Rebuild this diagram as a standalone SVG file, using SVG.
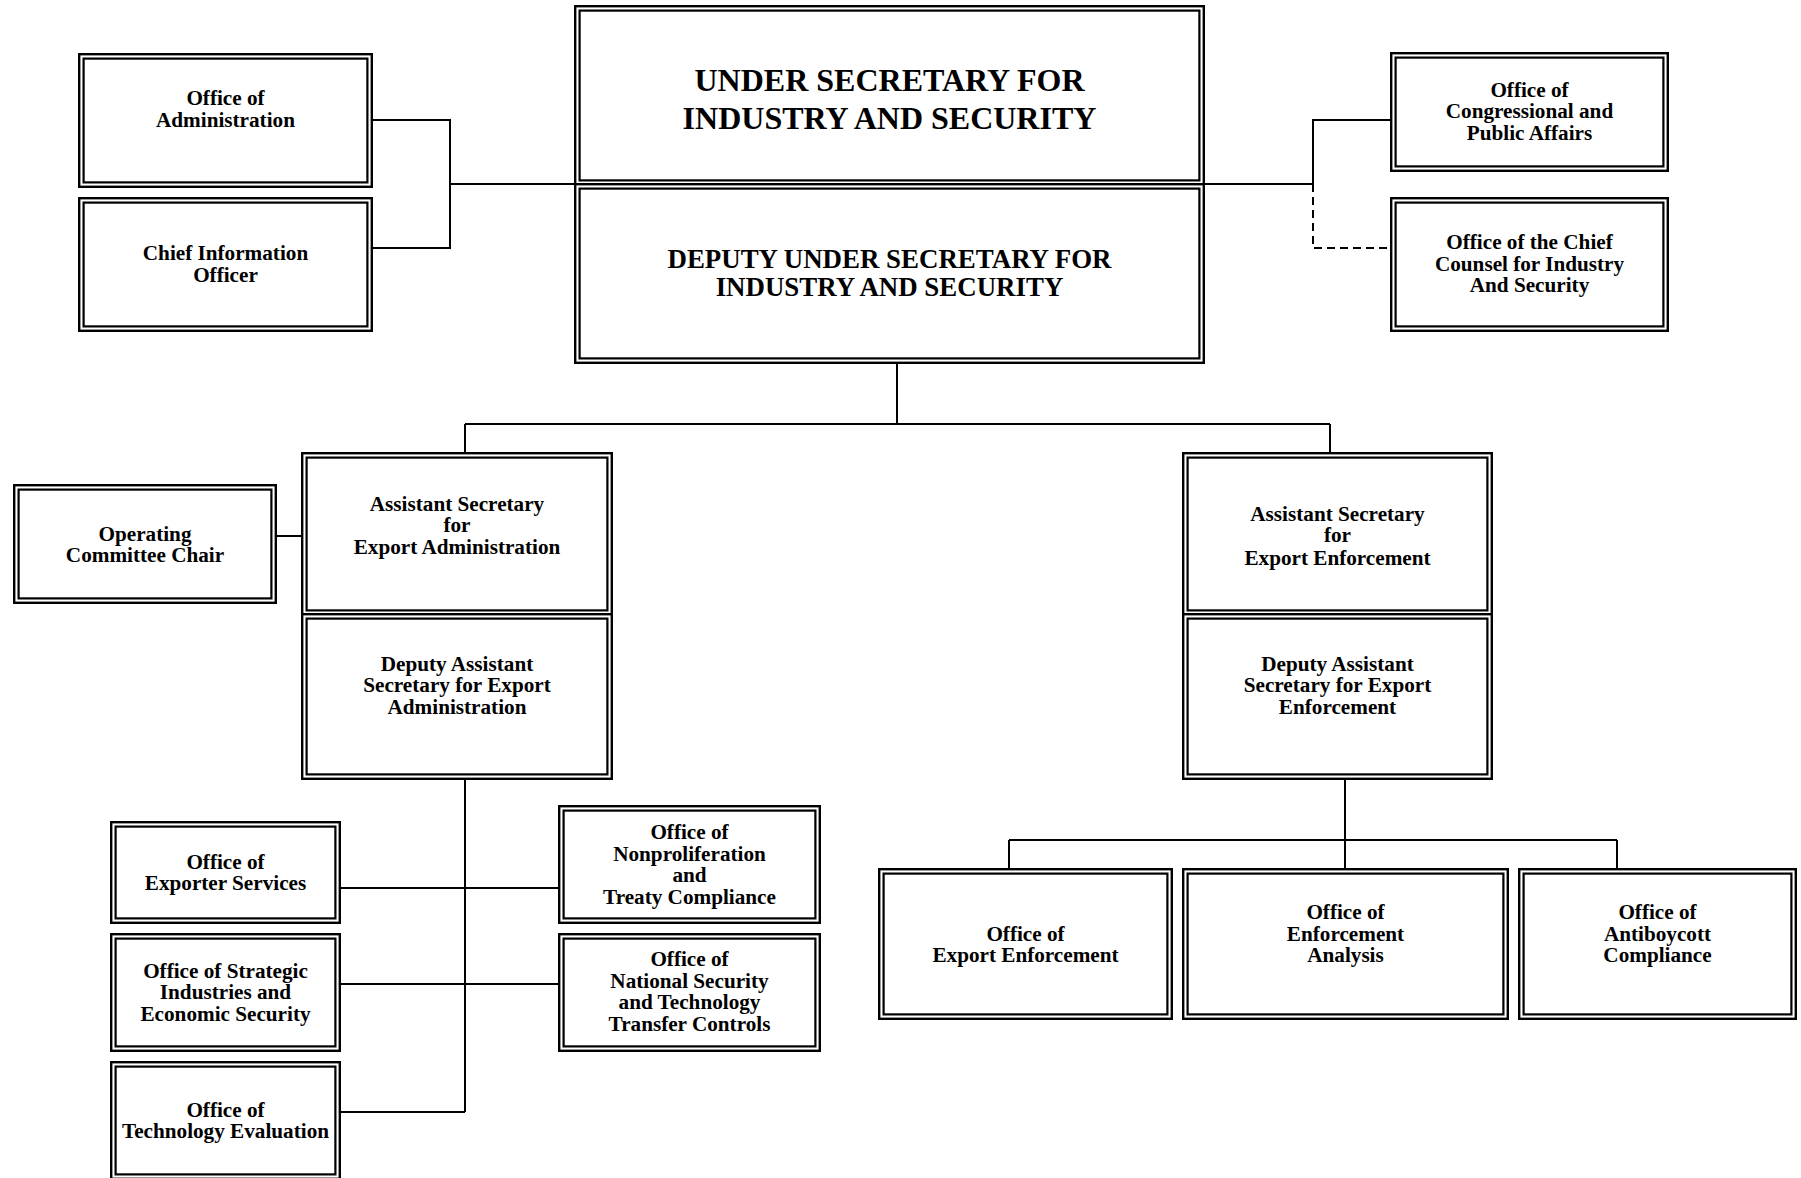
<svg xmlns="http://www.w3.org/2000/svg" width="1801" height="1178" viewBox="0 0 1801 1178">
<defs>
<style>
.o{fill:#fff;stroke:#000;stroke-width:2.4}
.i{fill:none;stroke:#000;stroke-width:2.2}
.t{font-family:"Liberation Serif","Times New Roman",serif;font-weight:bold;font-size:21.2px;text-anchor:middle;fill:#000}
.h1{font-size:32px}
.h2{font-size:26.9px}
.c{stroke:#000;stroke-width:2;fill:none}
.d{stroke-dasharray:8 5}
</style>
</defs>
<rect width="1801" height="1178" fill="#fff"/>
<g id="connectors">
<path class="c" d="M373,120 H450 V248 H373"/>
<path class="c" d="M450,184 H574"/>
<path class="c" d="M1205,184 H1313 V120 H1390"/>
<path class="c d" d="M1313,184 V248 H1390"/>
<path class="c" d="M897,364 V424 M465,424 H1330 M465,424 V452 M1330,424 V452"/>
<path class="c" d="M277,536 H301"/>
<path class="c" d="M465,780 V1112 M341,888 H558 M341,984 H558 M341,1112 H465"/>
<path class="c" d="M1345,780 V840 M1009,840 H1617 M1009,840 V868 M1345,840 V868 M1617,840 V868"/>
</g>
<g id="admin">
<rect class="o" x="79.2" y="54.2" width="292.6" height="132.6"/>
<rect class="i" x="83.6" y="58.6" width="283.8" height="123.8"/>
<text class="t" x="225.5" y="105">Office of</text>
<text class="t" x="225.5" y="126.5">Administration</text>
</g>
<g id="cio">
<rect class="o" x="79.2" y="198.2" width="292.6" height="132.6"/>
<rect class="i" x="83.6" y="202.6" width="283.8" height="123.8"/>
<text class="t" x="225.5" y="260">Chief Information</text>
<text class="t" x="225.5" y="281.5">Officer</text>
</g>
<g id="under-secretary">
<rect class="o" x="575.2" y="6.2" width="628.6" height="178.6"/>
<rect class="i" x="579.6" y="10.6" width="619.8" height="169.8"/>
<text class="t h1" x="889.5" y="90.5">UNDER SECRETARY FOR</text>
<text class="t h1" x="889.5" y="128.5">INDUSTRY AND SECURITY</text>
</g>
<g id="deputy-under-secretary">
<rect class="o" x="575.2" y="184.2" width="628.6" height="178.6"/>
<rect class="i" x="579.6" y="188.6" width="619.8" height="169.8"/>
<text class="t h2" x="889.5" y="268">DEPUTY UNDER SECRETARY FOR</text>
<text class="t h2" x="889.5" y="295.5">INDUSTRY AND SECURITY</text>
</g>
<g id="congressional">
<rect class="o" x="1391.2" y="53.2" width="276.6" height="117.6"/>
<rect class="i" x="1395.6" y="57.6" width="267.8" height="108.8"/>
<text class="t" x="1529.5" y="96.5">Office of</text>
<text class="t" x="1529.5" y="118.2">Congressional and</text>
<text class="t" x="1529.5" y="140">Public Affairs</text>
</g>
<g id="chief-counsel">
<rect class="o" x="1391.2" y="198.2" width="276.6" height="132.6"/>
<rect class="i" x="1395.6" y="202.6" width="267.8" height="123.8"/>
<text class="t" x="1529.5" y="249">Office of the Chief</text>
<text class="t" x="1529.5" y="270.5">Counsel for Industry</text>
<text class="t" x="1529.5" y="292">And Security</text>
</g>
<g id="operating-committee">
<rect class="o" x="14.2" y="485.2" width="261.6" height="117.6"/>
<rect class="i" x="18.6" y="489.6" width="252.8" height="108.8"/>
<text class="t" x="145" y="541">Operating</text>
<text class="t" x="145" y="562">Committee Chair</text>
</g>
<g id="asst-sec-admin">
<rect class="o" x="302.2" y="453.2" width="309.6" height="161.6"/>
<rect class="i" x="306.6" y="457.6" width="300.8" height="152.8"/>
<text class="t" x="457" y="510.5">Assistant Secretary</text>
<text class="t" x="457" y="532">for</text>
<text class="t" x="457" y="553.5">Export Administration</text>
</g>
<g id="deputy-asst-sec-admin">
<rect class="o" x="302.2" y="614.2" width="309.6" height="164.6"/>
<rect class="i" x="306.6" y="618.6" width="300.8" height="155.8"/>
<text class="t" x="457" y="670.5">Deputy Assistant</text>
<text class="t" x="457" y="692">Secretary for Export</text>
<text class="t" x="457" y="713.5">Administration</text>
</g>
<g id="asst-sec-enforcement">
<rect class="o" x="1183.2" y="453.2" width="308.6" height="161.6"/>
<rect class="i" x="1187.6" y="457.6" width="299.8" height="152.8"/>
<text class="t" x="1337.5" y="520.5">Assistant Secretary</text>
<text class="t" x="1337.5" y="542">for</text>
<text class="t" x="1337.5" y="564.5">Export Enforcement</text>
</g>
<g id="deputy-asst-sec-enforcement">
<rect class="o" x="1183.2" y="614.2" width="308.6" height="164.6"/>
<rect class="i" x="1187.6" y="618.6" width="299.8" height="155.8"/>
<text class="t" x="1337.5" y="670.5">Deputy Assistant</text>
<text class="t" x="1337.5" y="692">Secretary for Export</text>
<text class="t" x="1337.5" y="713.5">Enforcement</text>
</g>
<g id="exporter-services">
<rect class="o" x="111.2" y="822.2" width="228.6" height="100.6"/>
<rect class="i" x="115.6" y="826.6" width="219.8" height="91.8"/>
<text class="t" x="225.5" y="868.5">Office of</text>
<text class="t" x="225.5" y="890">Exporter Services</text>
</g>
<g id="strategic-industries">
<rect class="o" x="111.2" y="934.2" width="228.6" height="116.6"/>
<rect class="i" x="115.6" y="938.6" width="219.8" height="107.8"/>
<text class="t" x="225.5" y="977.5">Office of Strategic</text>
<text class="t" x="225.5" y="999">Industries and</text>
<text class="t" x="225.5" y="1020.5">Economic Security</text>
</g>
<g id="technology-evaluation">
<rect class="o" x="111.2" y="1062.2" width="228.6" height="116.6"/>
<rect class="i" x="115.6" y="1066.6" width="219.8" height="107.8"/>
<text class="t" x="225.5" y="1116.5">Office of</text>
<text class="t" x="225.5" y="1138">Technology Evaluation</text>
</g>
<g id="nonproliferation">
<rect class="o" x="559.2" y="806.2" width="260.6" height="116.6"/>
<rect class="i" x="563.6" y="810.6" width="251.8" height="107.8"/>
<text class="t" x="689.5" y="838.5">Office of</text>
<text class="t" x="689.5" y="860.5">Nonproliferation</text>
<text class="t" x="689.5" y="882">and</text>
<text class="t" x="689.5" y="903.5">Treaty Compliance</text>
</g>
<g id="national-security">
<rect class="o" x="559.2" y="934.2" width="260.6" height="116.6"/>
<rect class="i" x="563.6" y="938.6" width="251.8" height="107.8"/>
<text class="t" x="689.5" y="966">Office of</text>
<text class="t" x="689.5" y="987.5">National Security</text>
<text class="t" x="689.5" y="1009">and Technology</text>
<text class="t" x="689.5" y="1030.5">Transfer Controls</text>
</g>
<g id="export-enforcement">
<rect class="o" x="879.2" y="869.2" width="292.6" height="149.6"/>
<rect class="i" x="883.6" y="873.6" width="283.8" height="140.8"/>
<text class="t" x="1025.5" y="940.5">Office of</text>
<text class="t" x="1025.5" y="962">Export Enforcement</text>
</g>
<g id="enforcement-analysis">
<rect class="o" x="1183.2" y="869.2" width="324.6" height="149.6"/>
<rect class="i" x="1187.6" y="873.6" width="315.8" height="140.8"/>
<text class="t" x="1345.5" y="919">Office of</text>
<text class="t" x="1345.5" y="940.5">Enforcement</text>
<text class="t" x="1345.5" y="962">Analysis</text>
</g>
<g id="antiboycott">
<rect class="o" x="1519.2" y="869.2" width="276.6" height="149.6"/>
<rect class="i" x="1523.6" y="873.6" width="267.8" height="140.8"/>
<text class="t" x="1657.5" y="919">Office of</text>
<text class="t" x="1657.5" y="940.5">Antiboycott</text>
<text class="t" x="1657.5" y="962">Compliance</text>
</g>
</svg>
